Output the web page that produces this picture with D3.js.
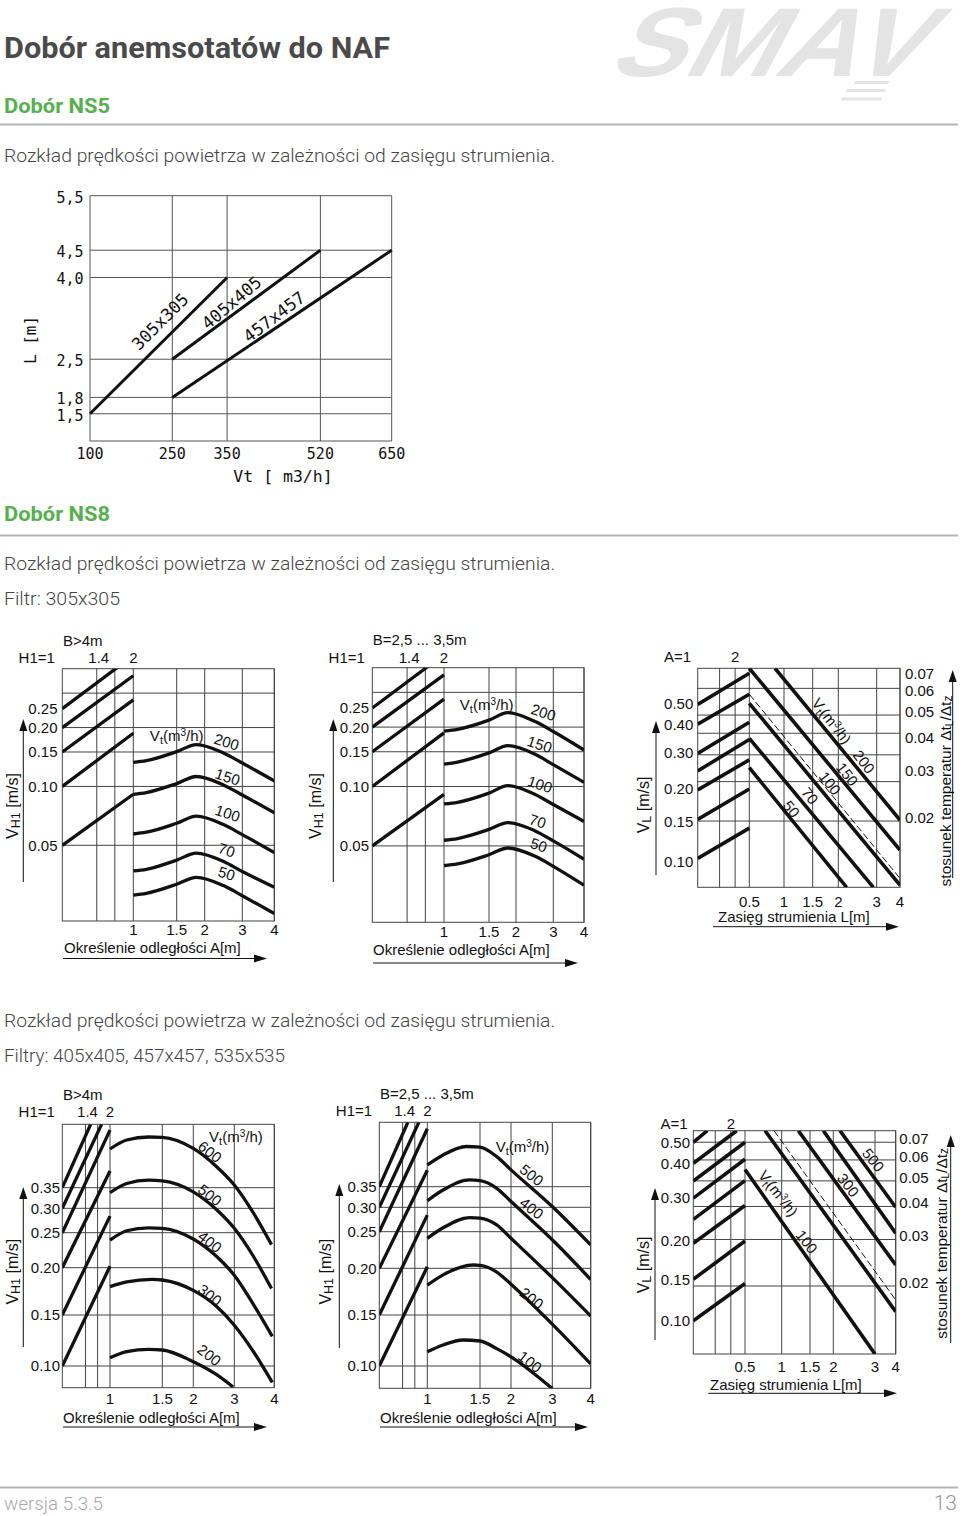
<!DOCTYPE html>
<html>
<head>
<meta charset="utf-8">
<script src="https://cdn.jsdelivr.net/npm/d3@7/dist/d3.min.js"></script>
<style>html,body{margin:0;padding:0;background:#fff}svg{display:block}</style>
</head>
<body>
<script>
// ================= DATA =================
// --- NS5 ---
const ns5FlowTicks = [100, 250, 350, 520, 650];
const ns5RangeTicks = [1.5, 1.8, 2.5, 4.0, 4.5, 5.5];
const ns5Filters = ["305x305", "405x405", "457x457"];
const ns5Line305 = [[100, 1.5], [350, 4.0]];
const ns5Line405 = [[250, 2.5], [520, 4.5]];
const ns5Line457 = [[250, 1.8], [650, 4.5]];
const ns5LabelAt = [[227.6, 3.19], [358, 3.54], [435.5, 3.28]];

// --- NS8 common ---
const h1Grid = [1.4, 1.67];
const distTicks = [1, 1.5, 2, 3, 4];
const rangeTicks = [0.5, 1, 1.5, 2, 3, 4];
const vSmallTicks = [0.05, 0.10, 0.15, 0.20, 0.25];
const vSmallGrid = [0.05, 0.10, 0.15, 0.20, 0.30];
const vBigTicks = [0.10, 0.15, 0.20, 0.25, 0.30, 0.35];
const vBigDomain = [0.0855, 0.10, 0.15, 0.20, 0.25, 0.30, 0.35, 0.40, 0.45, 0.50, 0.55];
const vlTicks = [0.10, 0.15, 0.20, 0.30, 0.40, 0.50];
const dtTicks = [0.02, 0.03, 0.04, 0.05, 0.06, 0.07];

// --- Filter 305x305 ---
const h1Lines305 = [[[1, 0.25], [2, 0.467]], [[1, 0.20], [2, 0.368]], [[1, 0.15], [2, 0.277]], [[1, 0.10], [2, 0.187]], [[1, 0.05], [2, 0.0912]]];
const flows305 = ["200", "150", "100", "70", "50"];
const dist305 = [1, 1.15, 1.5, 1.85, 2.5, 3, 4];
// B>4m
const vA200 = [0.1327, 0.1354, 0.1506, 0.1637, 0.1483, 0.1317, 0.1067];
const vA150 = [0.0911, 0.0930, 0.1034, 0.1124, 0.1018, 0.0904, 0.0733];
const vA100 = [0.0571, 0.0583, 0.0648, 0.0705, 0.0638, 0.0567, 0.0459];
const vA70  = [0.0370, 0.0377, 0.0420, 0.0456, 0.0413, 0.0367, 0.0305];
const vA50  = [0.0278, 0.0284, 0.0316, 0.0343, 0.0311, 0.0276, 0.0224];
const labelsA = [[2.585, 0.169], [2.61, 0.112], [2.61, 0.0729], [2.585, 0.0473], [2.585, 0.0359]];
const vtA = [1.5, 0.183];
// B=2,5...3,5m
const vB200 = [0.191, 0.195, 0.217, 0.237, 0.214, 0.190, 0.153];
const vB150 = [0.130, 0.133, 0.148, 0.161, 0.146, 0.129, 0.105];
const vB100 = [0.0816, 0.0832, 0.0926, 0.1010, 0.0913, 0.0810, 0.0665];
const vB70  = [0.0534, 0.0545, 0.0606, 0.0656, 0.0597, 0.0530, 0.0428];
const vB50  = [0.0397, 0.0405, 0.0451, 0.0488, 0.0444, 0.0394, 0.0316];
const labelsB = [[2.737, 0.2377], [2.635, 0.1636], [2.643, 0.1026], [2.58, 0.0668], [2.61, 0.0505]];
const vtB = [1.474, 0.259];
// VL chart (305)
const cLeftStart = [0.495, 0.40, 0.297, 0.248, 0.1975, 0.1535, 0.104];
const cLeftEnd   = [0.689, 0.557, 0.41, 0.346, 0.279, 0.199, 0.142];
const cLine200 = [[0.87, 0.72], [4, 0.1525]];
const cLine150 = [[0.5, 0.72], [4, 0.1146]];
const cLineDash = [[0.5, 0.5566], [4, 0.085]];
const cLine100 = [[0.5, 0.50], [4, 0.079]];
const cLine70 = [[0.5, 0.35], [2.913, 0.077]];
const cLine50 = [[0.5, 0.2574], [2.217, 0.077]];
const cLabels = ["200", "150", "100", "70", "50"];
const cLabelAt = [[2.669, 0.274], [2.234, 0.239], [1.838, 0.214], [1.453, 0.189], [1.129, 0.169]];
const cVtAt = [1.871, 0.4157];
const cGridV = [0.594, 0.444, 0.368, 0.293, 0.2185, 0.151];

// --- Filters 405/457/535 ---
const h1LinesBig = [[[1, 0.35], [1.51, 0.55]], [[1, 0.30], [1.77, 0.55]], [[1, 0.25], [2, 0.527]], [[1, 0.20], [2, 0.394]], [[1, 0.15], [2, 0.284]], [[1, 0.10], [2, 0.202]]];
// B>4m
const d600 = [[1, 0.46], [1.16, 0.49], [1.37, 0.50], [1.5, 0.499], [2, 0.462], [2.57, 0.406], [3, 0.357], [3.48, 0.29], [3.93, 0.233]];
const d500 = [[1, 0.338], [1.16, 0.361], [1.37, 0.370], [1.5, 0.368], [2, 0.340], [2.57, 0.297], [3, 0.259], [3.48, 0.216], [3.93, 0.178]];
const d400 = [[1, 0.2395], [1.16, 0.254], [1.37, 0.260], [1.5, 0.259], [2, 0.241], [2.57, 0.216], [3, 0.192], [3.48, 0.161], [3.95, 0.129]];
const d300 = [[1, 0.180], [1.16, 0.185], [1.4, 0.1877], [1.5, 0.187], [2, 0.176], [2.57, 0.159], [3, 0.140], [3.48, 0.114], [3.95, 0.089]];
const d200 = [[1, 0.108], [1.16, 0.114], [1.37, 0.1163], [1.5, 0.1157], [2, 0.1042], [2.57, 0.0942], [2.97, 0.086]];
const dLabels = ["600", "500", "400", "300", "200"];
const dLabelAt = [[2.407, 0.451], [2.407, 0.3323], [2.407, 0.2371], [2.407, 0.1711], [2.39, 0.1108]];
const dVtAt = [3.04, 0.501];
// B=2,5...3,5m
const e500 = [[1, 0.409], [1.15, 0.439], [1.37, 0.466], [1.5, 0.464], [1.77, 0.434], [2, 0.395], [3, 0.302], [4, 0.232]];
const e400 = [[1, 0.316], [1.15, 0.342], [1.4, 0.368], [1.5, 0.366], [1.77, 0.346], [2, 0.314], [3, 0.239], [4, 0.188]];
const e300 = [[1, 0.241], [1.15, 0.258], [1.4, 0.279], [1.5, 0.278], [1.77, 0.264], [2, 0.241], [3, 0.190], [4, 0.149]];
const e200 = [[1, 0.182], [1.15, 0.193], [1.44, 0.2045], [1.5, 0.204], [1.77, 0.196], [2, 0.183], [3, 0.141], [4, 0.102]];
const e100 = [[1, 0.114], [1.15, 0.1206], [1.34, 0.1255], [1.5, 0.1245], [1.77, 0.117], [2, 0.109], [3, 0.0853]];
const eLabels = ["500", "400", "200", "100"];
const eLabelAt = [[2.501, 0.3813], [2.501, 0.298], [2.501, 0.1679], [2.46, 0.1042]];
const eVtAt = [2.278, 0.4653];
// VL chart (big)
const fLeftLines = [[[1, 0.50], [1.295, 0.556]], [[1, 0.40], [2.229, 0.556]], [[1, 0.348], [2.6, 0.50]], [[1, 0.298], [2.6, 0.419]], [[1, 0.249], [2.6, 0.349]], [[1, 0.1966], [2.6, 0.281]], [[1, 0.15], [2.6, 0.1996]], [[1, 0.10], [2.6, 0.145]]];
const f100 = [[0.5, 0.382], [3, 0.06]];
const fLine200 = [[0.773, 0.556], [4, 0.111]];
const fLineDash = [[0.895, 0.556], [4, 0.125]];
const f300 = [[1.294, 0.556], [4, 0.1685]];
const fLine400 = [[1.786, 0.556], [4, 0.217]];
const f500 = [[2.16, 0.556], [4, 0.277]];
const fLabels = ["100", "300", "500"];
const fLabelAt = [[1.442, 0.1987], [2.36, 0.336], [2.96, 0.4157]];
const fVtAt = [0.954, 0.312];

// ================= DRAWING =================
const CF = "'Liberation Sans', Arial, Helvetica, sans-serif";
const HF = "Roboto, 'Noto Sans', sans-serif";
const MONO = "'DejaVu Sans Mono', 'Liberation Mono', monospace";
const INK = "#111";

const svg = d3.select("body").append("svg").attr("width", 960).attr("height", 1516);
svg.append("rect").attr("width", 960).attr("height", 1516).attr("fill", "#fff");

function label(g, x, y, s, o = {}) {
  const size = o.size || 15;
  const t = g.append("text")
    .attr("transform", `translate(${x},${y})` + (o.rot ? ` rotate(${o.rot})` : ""))
    .attr("y", size * 0.36).attr("text-anchor", o.anchor || "middle")
    .attr("font-family", o.font || CF).attr("font-size", size).attr("fill", o.fill || INK);
  if (s !== null) t.text(s);
  return t;
}
function vtText(g, x, y, rot) {
  const t = label(g, x, y, null, {rot: rot});
  t.append("tspan").text("V");
  t.append("tspan").text("t").attr("font-size", 11).attr("dy", 3);
  t.append("tspan").text("(m").attr("dy", -3);
  t.append("tspan").text("3").attr("font-size", 10).attr("dy", -5);
  t.append("tspan").text("/h)").attr("dy", 5);
}
function vTitle(g, x, y, sub) {
  const t = label(g, x, y, null, {rot: -90, size: 16});
  t.append("tspan").text("V");
  t.append("tspan").text(sub).attr("font-size", 12.5).attr("dy", 2);
  t.append("tspan").text(" [m/s]").attr("dy", -2);
}
function arrowV(x, yb, yt) {
  svg.append("line").attr("x1", x).attr("x2", x).attr("y1", yb).attr("y2", yt + 8).attr("stroke", INK).attr("stroke-width", 1);
  svg.append("path").attr("d", `M${x},${yt}L${x - 4},${yt + 12}L${x + 4},${yt + 12}Z`).attr("fill", INK);
}
function arrowH(y, xl, xr) {
  svg.append("line").attr("x1", xl).attr("x2", xr - 8).attr("y1", y).attr("y2", y).attr("stroke", INK).attr("stroke-width", 1);
  svg.append("path").attr("d", `M${xr},${y}L${xr - 13},${y - 4}L${xr - 13},${y + 4}Z`).attr("fill", INK);
}
let clipN = 0;
function clip(g, x, y, w, h) {
  const id = "clp" + (clipN++);
  g.append("clipPath").attr("id", id).append("rect").attr("x", x).attr("y", y).attr("width", w).attr("height", h);
  return `url(#${id})`;
}

// ---------- Header ----------
function htext(x, y, s, size, weight, fill, len, anchor) {
  const t = svg.append("text").attr("x", x).attr("y", y).text(s)
    .attr("font-family", HF).attr("font-size", size).attr("font-weight", weight).attr("fill", fill);
  if (len) t.attr("textLength", len).attr("lengthAdjust", "spacingAndGlyphs");
  if (anchor) t.attr("text-anchor", anchor);
  return t;
}
// logo
const logo = svg.append("g").attr("transform", "translate(606,76) skewX(-28)");
logo.append("text").text("SMAV").attr("font-family", CF).attr("font-weight", "bold").attr("font-size", 98)
  .attr("fill", "#e4e4e4").attr("textLength", 312).attr("lengthAdjust", "spacingAndGlyphs");
[[252, 5, 34], [248, 13, 39], [247.5, 21.5, 40]].forEach(s =>
  logo.append("rect").attr("x", s[0]).attr("y", s[1]).attr("width", s[2]).attr("height", 3).attr("fill", "#e4e4e4"));

const GREEN = "#56b04f";
htext(4, 58, "Dobór anemsotatów do NAF", 30, 700, "#4a4a4a", 386);
htext(4, 113, "Dobór NS5", 20, 700, GREEN, 106);
svg.append("line").attr("x1", 0).attr("x2", 958).attr("y1", 124.5).attr("y2", 124.5).attr("stroke", "#b5b5b5").attr("stroke-width", 2);
htext(4, 162, "Rozkład prędkości powietrza w zależności od zasięgu strumienia.", 19, 300, "#444", 551);
htext(4, 521, "Dobór NS8", 20, 700, GREEN, 106);
svg.append("line").attr("x1", 0).attr("x2", 958).attr("y1", 535.5).attr("y2", 535.5).attr("stroke", "#b5b5b5").attr("stroke-width", 2);
htext(4, 570, "Rozkład prędkości powietrza w zależności od zasięgu strumienia.", 19, 300, "#444", 551);
htext(4, 605, "Filtr: 305x305", 19, 300, "#444", 116);
htext(4, 1027, "Rozkład prędkości powietrza w zależności od zasięgu strumienia.", 19, 300, "#444", 551);
htext(4, 1062, "Filtry: 405x405, 457x457, 535x535", 19, 300, "#444", 281);
svg.append("line").attr("x1", 0).attr("x2", 958).attr("y1", 1487.5).attr("y2", 1487.5).attr("stroke", "#b5b5b5").attr("stroke-width", 2);
htext(4, 1510, "wersja 5.3.5", 18, 300, "#aaa", 99);
htext(957, 1510, "13", 21, 300, "#999", null, "end");

// ---------- NS5 chart ----------
(function () {
  const x = d3.scaleLinear().domain([100, 650]).range([90, 391.7]);
  const y = d3.scaleLinear().domain([1, 5.5]).range([441, 195.7]);
  const g = svg.append("g");
  const grid = g.append("g").attr("stroke", "#555").attr("stroke-width", 1);
  grid.selectAll("line.v").data(ns5FlowTicks).join("line").attr("class", "v")
    .attr("x1", d => x(d)).attr("x2", d => x(d)).attr("y1", y(1)).attr("y2", y(5.5));
  grid.selectAll("line.h").data([1].concat(ns5RangeTicks)).join("line").attr("class", "h")
    .attr("x1", x(100)).attr("x2", x(650)).attr("y1", d => y(d)).attr("y2", d => y(d));
  const line = d3.line().x(d => x(d[0])).y(d => y(d[1]));
  g.selectAll("path.s").data([ns5Line305, ns5Line405, ns5Line457]).join("path").attr("class", "s")
    .attr("d", line).attr("fill", "none").attr("stroke", INK).attr("stroke-width", 3);
  const rots = [-45, -40, -37];
  ns5Filters.forEach((s, i) => label(g, x(ns5LabelAt[i][0]), y(ns5LabelAt[i][1]), s, {font: MONO, size: 17, rot: rots[i]}));
  const fmt = v => d3.format(".1f")(v).replace(".", ",");
  ns5RangeTicks.forEach(v => label(g, 83.5, y(v) + 1.5, fmt(v), {font: MONO, size: 15, anchor: "end"}));
  ns5FlowTicks.forEach(v => label(g, x(v), 454, String(v), {font: MONO, size: 15}));
  label(g, 283, 476, "Vt [ m3/h]", {font: MONO, size: 16.5});
  label(g, 30, 340, "L [m]", {font: MONO, size: 16, rot: -90});
})();

// ---------- VH1 charts ----------
function vh1Chart(c) {
  const g = svg.append("g");
  const xH = d3.scaleLog().domain([1, 2]).range([c.left, c.mid]);
  const xA = d3.scaleLinear().domain(distTicks).range(c.aRange);
  const y = c.y;
  const grid = g.append("g").attr("stroke", "#444").attr("stroke-width", 1).attr("fill", "none");
  grid.selectAll("line.gy").data(c.gridY).join("line").attr("class", "gy")
    .attr("x1", c.left).attr("x2", c.right).attr("y1", d => y(d)).attr("y2", d => y(d));
  grid.selectAll("line.gh").data(h1Grid).join("line").attr("class", "gh")
    .attr("x1", d => xH(d)).attr("x2", d => xH(d)).attr("y1", c.top).attr("y2", c.bottom);
  grid.selectAll("line.ga").data(distTicks).join("line").attr("class", "ga")
    .attr("x1", d => xA(d)).attr("x2", d => xA(d)).attr("y1", c.top).attr("y2", c.bottom);
  grid.append("rect").attr("x", c.left).attr("y", c.top).attr("width", c.right - c.left).attr("height", c.bottom - c.top);
  const lg = g.append("g").attr("clip-path", clip(g, c.left, c.top, c.right - c.left, c.bottom - c.top))
    .attr("fill", "none").attr("stroke", INK).attr("stroke-width", 3.3);
  const lineH = d3.line().x(d => xH(d[0])).y(d => y(d[1]));
  lg.selectAll("path.l").data(c.leftLines).join("path").attr("class", "l").attr("d", lineH);
  const lineA = d3.line().x(d => xA(d[0])).y(d => y(d[1])).curve(d3.curveMonotoneX);
  lg.selectAll("path.c").data(c.curves).join("path").attr("class", "c").attr("d", lineA);
  c.flowLabels.forEach((s, i) => label(g, xA(c.labelAt[i][0]), y(c.labelAt[i][1]), s, {rot: c.labelRot}));
  vtText(g, xA(c.vtAt[0]), y(c.vtAt[1]), 0);
  c.ticksY.forEach(v => label(g, c.yLabelX, y(v), d3.format(".2f")(v), {anchor: "end"}));
  distTicks.forEach(v => label(g, xA(v), c.xTickY, String(v)));
  label(g, c.bX, c.bY, c.bText, {anchor: "start"});
  label(g, c.h1X, c.h1Y, "H1=1");
  label(g, xH(1.4) + 2, c.h1Y, "1.4");
  label(g, xH(2), c.h1Y, "2");
  vTitle(g, c.titleX, c.titleY, "H1");
  label(g, c.xTitleX, c.xTitleY, "Określenie odległości A[m]", {anchor: "start"});
  arrowV(c.arrowX, c.arrowY1, c.arrowY2);
  arrowH(c.hArrowY, c.hArrowX1, c.hArrowX2);
}
const toPts = vals => dist305.map((a, i) => [a, vals[i]]);

vh1Chart({left: 62.3, mid: 133.3, right: 274.3, top: 668.7, bottom: 921,
  aRange: [133.3, 176.7, 204.7, 242.3, 274.3],
  y: d3.scaleLog().domain([0.0205, 0.4]).range([921, 668.7]),
  gridY: vSmallGrid, ticksY: vSmallTicks, leftLines: h1Lines305,
  curves: [vA200, vA150, vA100, vA70, vA50].map(toPts),
  flowLabels: flows305, labelAt: labelsA, vtAt: vtA, labelRot: 18,
  yLabelX: 57.5, xTickY: 930, bText: "B>4m", bX: 63, bY: 641, h1X: 36.7, h1Y: 658,
  titleX: 12.7, titleY: 806, xTitleX: 64, xTitleY: 948,
  arrowX: 23.3, arrowY1: 882, arrowY2: 719, hArrowY: 958.5, hArrowX1: 63, hArrowX2: 267});

vh1Chart({left: 372.3, mid: 444, right: 584, top: 667.7, bottom: 922.3,
  aRange: [444, 489, 516, 553.3, 584],
  y: d3.scaleLog().domain([0.0205, 0.4]).range([922.3, 667.7]),
  gridY: vSmallGrid, ticksY: vSmallTicks, leftLines: h1Lines305,
  curves: [vB200, vB150, vB100, vB70, vB50].map(toPts),
  flowLabels: flows305, labelAt: labelsB, vtAt: vtB, labelRot: 18,
  yLabelX: 369, xTickY: 932, bText: "B=2,5 ... 3,5m", bX: 372.7, bY: 640, h1X: 346.7, h1Y: 658,
  titleX: 315, titleY: 806, xTitleX: 373, xTitleY: 950,
  arrowX: 333.3, arrowY1: 882, arrowY2: 719, hArrowY: 963, hArrowX1: 373, hArrowX2: 578});

vh1Chart({left: 62.3, mid: 110, right: 274.3, top: 1124.3, bottom: 1387.7,
  aRange: [110, 162.3, 193.3, 234.3, 274.3],
  y: d3.scaleLinear().domain(vBigDomain).range([1387.7, 1366, 1315, 1267.7, 1232.7, 1208.3, 1187.7, 1168.7, 1152, 1137, 1124.3]),
  gridY: vBigTicks, ticksY: vBigTicks, leftLines: h1LinesBig,
  curves: [d600, d500, d400, d300, d200],
  flowLabels: dLabels, labelAt: dLabelAt, vtAt: dVtAt, labelRot: 38,
  yLabelX: 60, xTickY: 1398.3, bText: "B>4m", bX: 63, bY: 1095, h1X: 36.7, h1Y: 1111.7,
  titleX: 12.7, titleY: 1271.7, xTitleX: 63, xTitleY: 1417.5,
  arrowX: 23.3, arrowY1: 1347, arrowY2: 1187, hArrowY: 1427, hArrowX1: 63, hArrowX2: 267});

vh1Chart({left: 379.3, mid: 427.3, right: 590.7, top: 1122.3, bottom: 1388.3,
  aRange: [427.3, 480, 511, 552.3, 590.7],
  y: d3.scaleLinear().domain(vBigDomain).range([1388.3, 1366, 1315, 1268.3, 1231.7, 1207.3, 1186.7, 1168, 1151.3, 1136.3, 1122.3]),
  gridY: vBigTicks, ticksY: vBigTicks, leftLines: h1LinesBig,
  curves: [e500, e400, e300, e200, e100],
  flowLabels: eLabels, labelAt: eLabelAt, vtAt: eVtAt, labelRot: 38,
  yLabelX: 376.7, xTickY: 1398.3, bText: "B=2,5 ... 3,5m", bX: 380, bY: 1093.3, h1X: 354, h1Y: 1111,
  titleX: 325, titleY: 1271.7, xTitleX: 380, xTitleY: 1418,
  arrowX: 339.3, arrowY1: 1348, arrowY2: 1184, hArrowY: 1427, hArrowX1: 380, hArrowX2: 588});

// ---------- VL charts ----------
function vlChart(c) {
  const g = svg.append("g");
  const xAL = d3.scaleLog().domain([1, 2.6]).range([c.left, c.mid]);
  const xL = d3.scaleLinear().domain(rangeTicks).range(c.lRange);
  const y = d3.scaleLinear().domain(c.yDomain).range(c.yRange);
  const yDt = d3.scaleLog().domain(c.dtDomain).range([c.bottom, c.top]);
  const grid = g.append("g").attr("stroke", "#444").attr("stroke-width", 1).attr("fill", "none");
  const gy = c.gridOnDt ? c.gridVals.map(v => yDt(v)) : c.gridVals.map(v => y(v));
  grid.selectAll("line.gy").data(gy).join("line").attr("class", "gy")
    .attr("x1", c.left).attr("x2", c.right).attr("y1", d => d).attr("y2", d => d);
  grid.selectAll("line.ga").data([1.5, 2]).join("line").attr("class", "ga")
    .attr("x1", d => xAL(d)).attr("x2", d => xAL(d)).attr("y1", c.top).attr("y2", c.bottom);
  grid.selectAll("line.gl").data(rangeTicks).join("line").attr("class", "gl")
    .attr("x1", d => xL(d)).attr("x2", d => xL(d)).attr("y1", c.top).attr("y2", c.bottom);
  grid.append("rect").attr("x", c.left).attr("y", c.top).attr("width", c.right - c.left).attr("height", c.bottom - c.top);
  const lg = g.append("g").attr("clip-path", clip(g, c.left, c.top, c.right - c.left, c.bottom - c.top))
    .attr("fill", "none").attr("stroke", INK);
  const lineAL = d3.line().x(d => xAL(d[0])).y(d => y(d[1]));
  lg.selectAll("path.l").data(c.leftLines).join("path").attr("class", "l").attr("d", lineAL).attr("stroke-width", 3.6);
  const lineL = d3.line().x(d => xL(d[0])).y(d => y(d[1]));
  lg.selectAll("path.d").data(c.diag).join("path").attr("class", "d").attr("d", lineL).attr("stroke-width", 3.6);
  lg.append("path").attr("d", lineL(c.dash)).attr("stroke-width", 1).attr("stroke-dasharray", "7,3");
  c.flowLabels.forEach((s, i) => label(g, xL(c.labelAt[i][0]), y(c.labelAt[i][1]), s, {rot: 52}));
  vtText(g, xL(c.vtAt[0]), y(c.vtAt[1]), 52);
  vlTicks.forEach(v => label(g, c.yLabelX, y(v), d3.format(".2f")(v), {anchor: "end"}));
  dtTicks.forEach(v => label(g, c.dtLabelX, yDt(v) + c.dtShift, d3.format(".2f")(v), {anchor: "start"}));
  rangeTicks.forEach(v => label(g, xL(v), c.xTickY, String(v)));
  label(g, c.aX, c.aY, "A=1");
  label(g, xAL(2), c.aY, "2");
  vTitle(g, c.titleX, c.titleY, "L");
  const rt = label(g, c.rTitleX, c.rTitleY, null, {rot: -90, size: 15.5});
  rt.append("tspan").text("stosunek temperatur Δt");
  rt.append("tspan").text("L").attr("font-size", 10).attr("dy", 2);
  rt.append("tspan").text("/Δt").attr("dy", -2);
  rt.append("tspan").text("z").attr("font-size", 12).attr("dy", 1);
  label(g, c.xTitleX, c.xTitleY, "Zasięg strumienia L[m]", {anchor: "start"});
  arrowV(c.arrowX, c.arrowY1, c.arrowY2);
  arrowV(c.rArrowX, c.rArrowY1, c.rArrowY2);
  arrowH(c.hArrowY, c.hArrowX1, c.hArrowX2);
}

vlChart({left: 697.7, mid: 749.3, right: 900, top: 668.3, bottom: 887.3,
  lRange: [749.3, 784, 812.7, 838.3, 876.7, 900],
  yDomain: [0.077, 0.10, 0.15, 0.20, 0.30, 0.40, 0.50, 0.72],
  yRange: [887.3, 861.7, 821.7, 788.3, 752.3, 724.3, 703.3, 668.3],
  dtDomain: [0.01094, 0.0731], gridOnDt: false, gridVals: cGridV,
  leftLines: cLeftStart.map((v, i) => [[1, v], [2.6, cLeftEnd[i]]]),
  diag: [cLine200, cLine150, cLine100, cLine70, cLine50], dash: cLineDash,
  flowLabels: cLabels, labelAt: cLabelAt, vtAt: cVtAt,
  yLabelX: 693.3, dtLabelX: 905, dtShift: 0, xTickY: 901.5, aX: 677.5, aY: 657,
  titleX: 643.3, titleY: 805, rTitleX: 945, rTitleY: 791,
  xTitleX: 718, xTitleY: 917,
  arrowX: 656, arrowY1: 875, arrowY2: 721, rArrowX: 952.7, rArrowY1: 878, rArrowY2: 670,
  hArrowY: 926.7, hArrowX1: 713, hArrowX2: 899});

vlChart({left: 693.3, mid: 745, right: 895.7, top: 1130.7, bottom: 1354,
  lRange: [745, 781.7, 810, 833.3, 875, 895.7],
  yDomain: [0.06, 0.10, 0.15, 0.20, 0.30, 0.40, 0.50, 0.556],
  yRange: [1354, 1320.7, 1279.3, 1240.7, 1197.3, 1163.3, 1142.3, 1130.7],
  dtDomain: [0.01106, 0.0774], gridOnDt: true, gridVals: dtTicks,
  leftLines: fLeftLines,
  diag: [f100, fLine200, f300, fLine400, f500], dash: fLineDash,
  flowLabels: fLabels, labelAt: fLabelAt, vtAt: fVtAt,
  yLabelX: 690, dtLabelX: 899.3, dtShift: -3.5, xTickY: 1366.7, aX: 674, aY: 1123.3,
  titleX: 643.3, titleY: 1265, rTitleX: 941.7, rTitleY: 1243.3,
  xTitleX: 710, xTitleY: 1385,
  arrowX: 655, arrowY1: 1340, arrowY2: 1188, rArrowX: 950.7, rArrowY1: 1343, rArrowY2: 1135,
  hArrowY: 1393.3, hArrowX1: 708.3, hArrowX2: 897});
</script>
</body>
</html>
